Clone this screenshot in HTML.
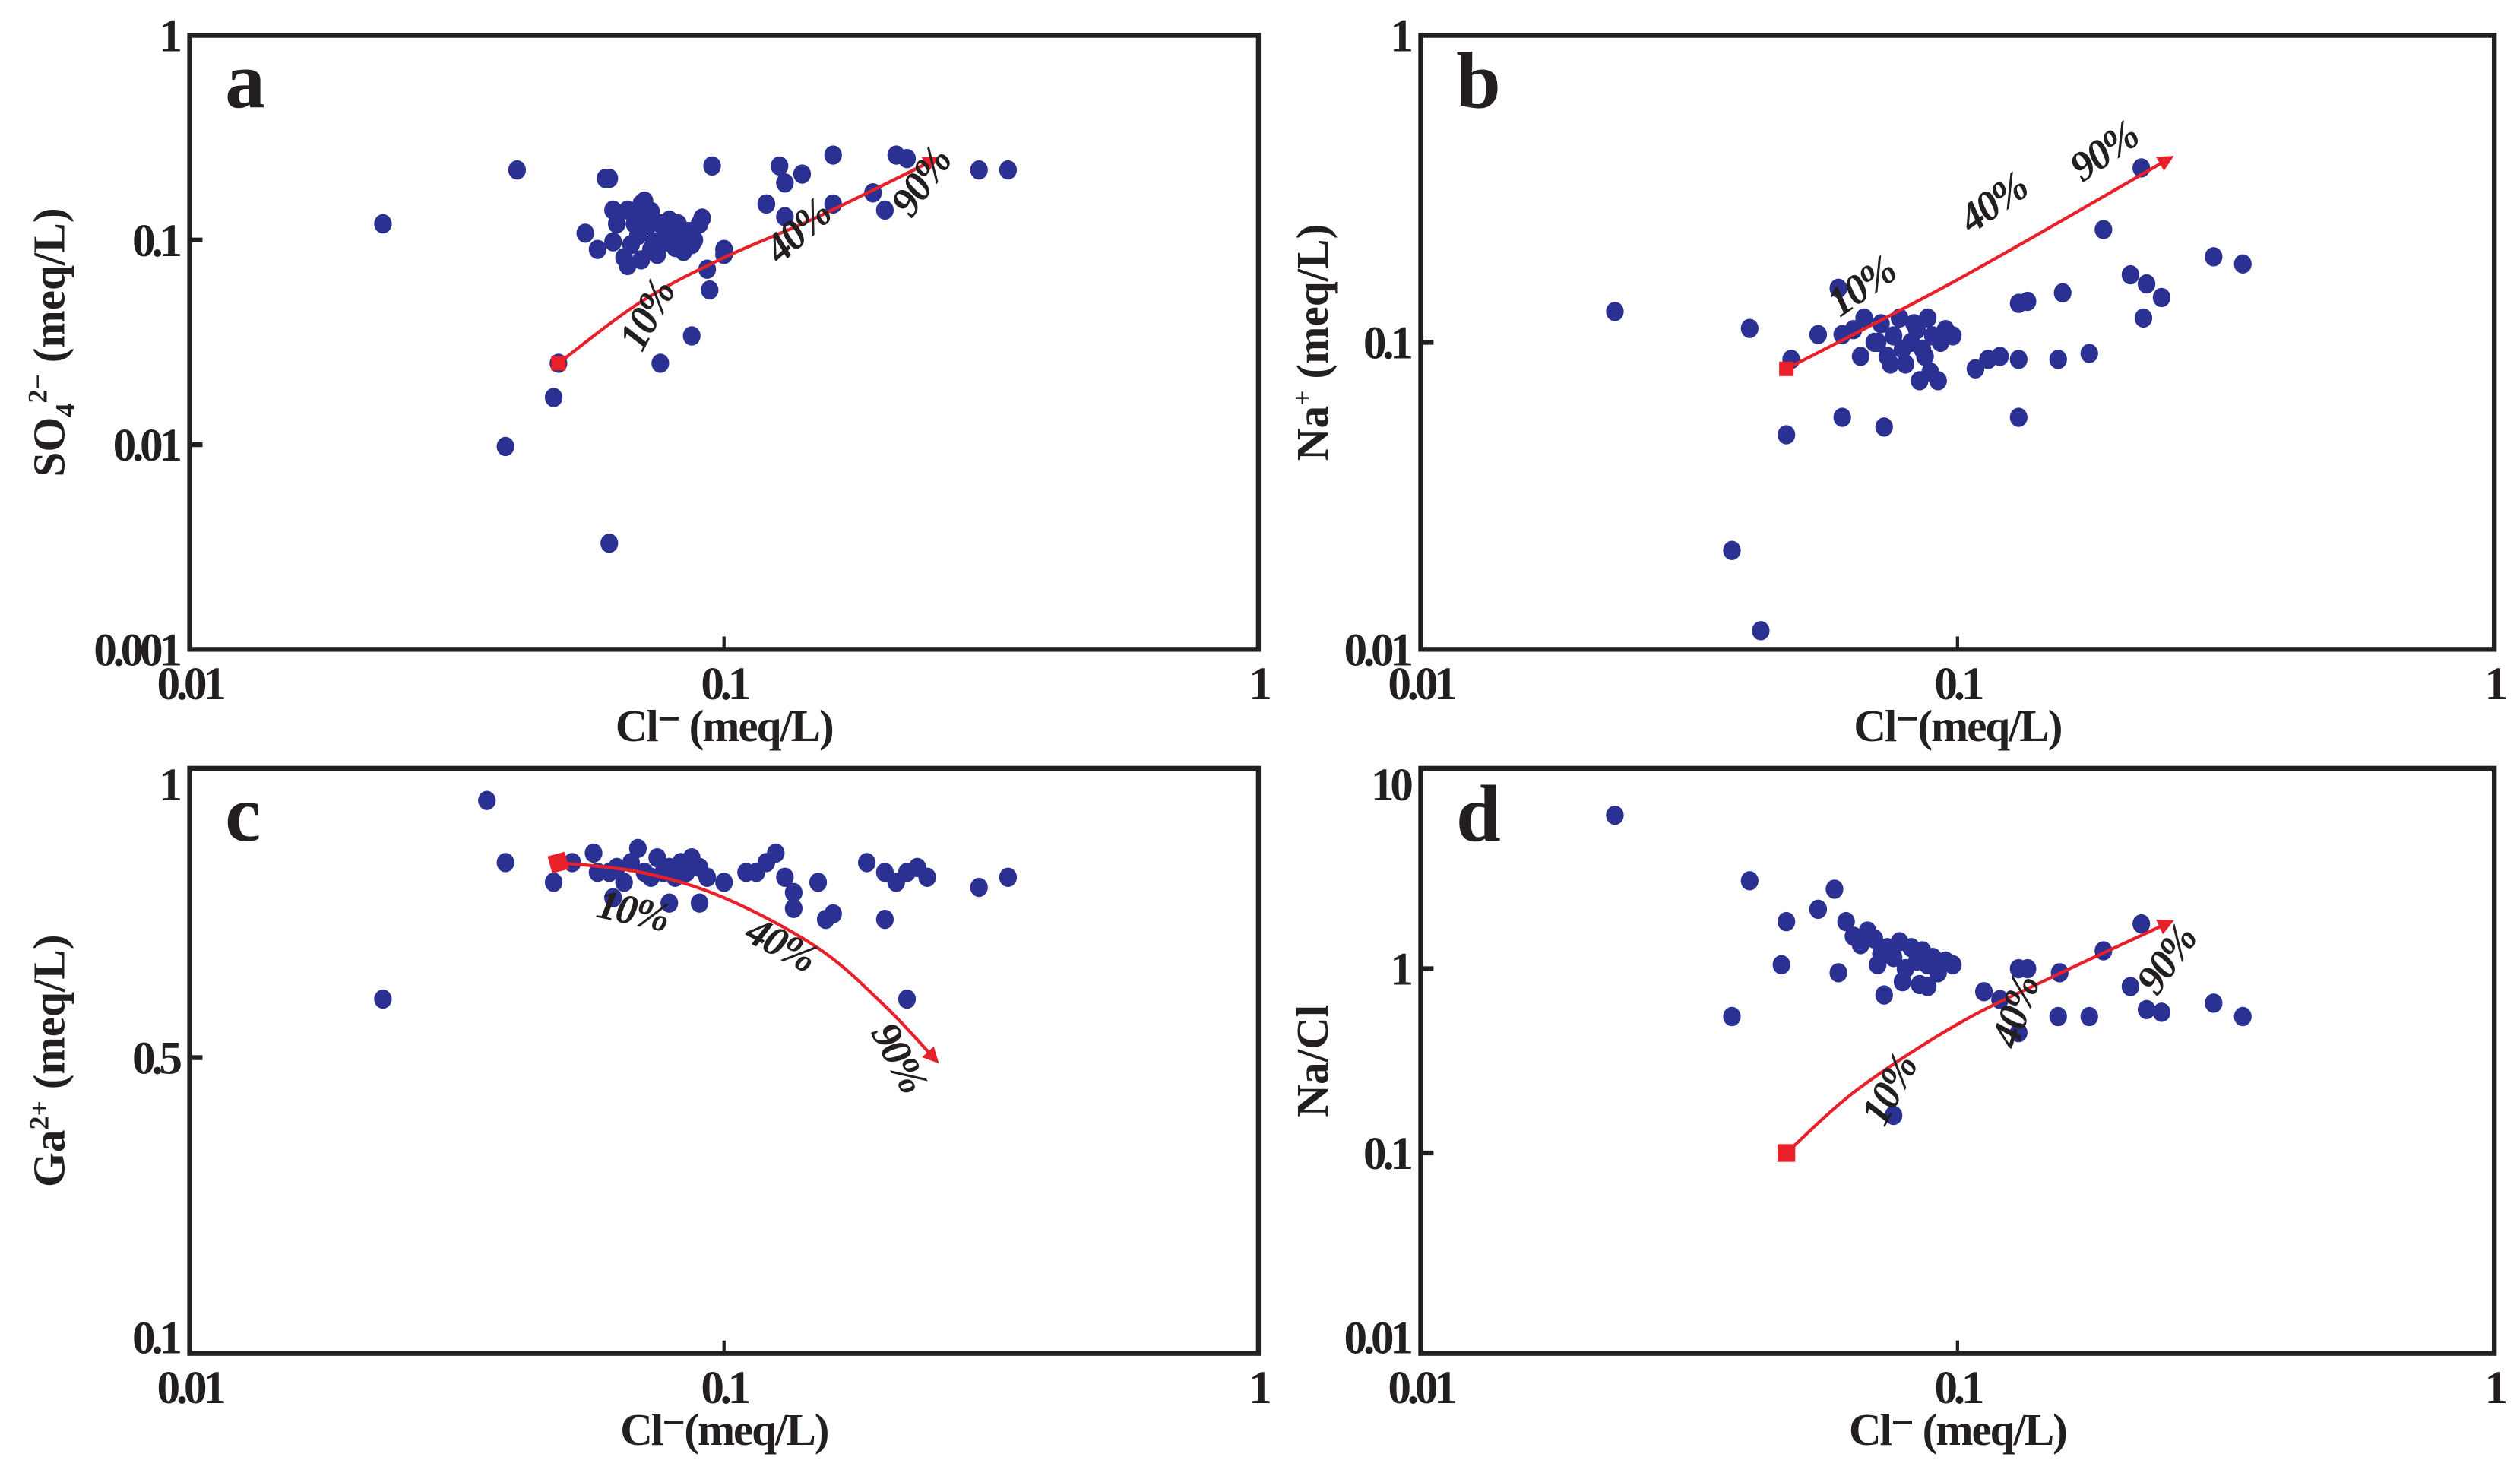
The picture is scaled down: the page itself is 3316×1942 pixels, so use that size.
<!DOCTYPE html>
<html><head><meta charset="utf-8"><style>
html,body{margin:0;padding:0;background:#fff;width:3316px;height:1942px;overflow:hidden}
svg{display:block}
text{font-family:"Liberation Serif",serif;font-weight:bold;fill:#231f20}
</style></head><body>
<svg id="fig" width="3316" height="1942" viewBox="0 0 1568 918.3" preserveAspectRatio="none" xmlns="http://www.w3.org/2000/svg"></svg>
<script>
// ---- data ----
const aX=[0.023,0.041,0.039,0.048,0.049,0.061,0.060,0.061,0.095,0.127,0.16,0.19,0.21,0.22,0.30,0.34,0.20,0.14,0.13,0.12,0.12,0.13,0.16,0.10,0.10,0.094,0.093,0.087,0.076,
0.055,0.062,0.066,0.062,0.065,0.066,0.067,0.070,0.070,0.072,0.073,0.074,0.076,0.078,0.079,0.081,0.082,0.084,0.086,0.088,0.090,0.091,0.075,0.070,0.081,0.071,0.068,0.073,0.084,0.078,0.069,0.085,0.087,0.058,0.063];
const aY=[0.12,0.22,0.0098,0.017,0.025,0.0033,0.20,0.20,0.23,0.23,0.26,0.17,0.26,0.25,0.22,0.22,0.14,0.21,0.19,0.15,0.15,0.13,0.15,0.085,0.09,0.057,0.072,0.034,0.025,
0.108,0.14,0.14,0.098,0.082,0.075,0.095,0.15,0.125,0.118,0.138,0.098,0.12,0.11,0.125,0.10,0.12,0.098,0.11,0.10,0.12,0.128,0.085,0.08,0.092,0.155,0.12,0.09,0.088,0.098,0.105,0.11,0.095,0.09,0.12];
const bX=[0.023,0.041,0.038,0.048,0.049,0.043,0.061,0.073,0.060,0.055,0.061,0.13,0.135,0.157,0.187,0.21,0.225,0.24,0.222,0.30,0.34,0.176,0.154,0.13,0.114,0.12,0.13,0.108,0.22,
0.064,0.067,0.070,0.072,0.074,0.076,0.078,0.080,0.082,0.084,0.086,0.088,0.090,0.092,0.095,0.098,0.075,0.079,0.083,0.087,0.071,0.066,0.085,0.089,0.093];
const bY=[0.126,0.111,0.021,0.05,0.088,0.0115,0.057,0.053,0.15,0.106,0.106,0.134,0.136,0.145,0.233,0.166,0.155,0.14,0.12,0.19,0.18,0.092,0.088,0.057,0.088,0.09,0.088,0.082,0.37,
0.11,0.12,0.1,0.115,0.09,0.105,0.12,0.085,0.1,0.11,0.095,0.12,0.105,0.075,0.11,0.105,0.085,0.095,0.115,0.09,0.1,0.09,0.075,0.08,0.1];
const cX=[0.036,0.039,0.023,0.048,0.052,0.057,0.058,0.061,0.063,0.065,0.067,0.069,0.071,0.073,0.075,0.077,0.079,0.081,0.083,0.085,0.087,0.090,0.093,0.10,0.11,0.115,0.12,0.125,0.13,0.135,0.15,0.16,0.185,0.20,0.21,0.22,0.23,0.24,0.30,0.34,0.09,0.135,0.155,0.20,0.22,0.062,0.079];
const cY=[0.96,0.82,0.58,0.78,0.82,0.84,0.80,0.80,0.81,0.78,0.82,0.85,0.80,0.79,0.83,0.80,0.81,0.79,0.82,0.80,0.83,0.81,0.79,0.78,0.80,0.80,0.82,0.84,0.79,0.76,0.78,0.72,0.82,0.80,0.78,0.80,0.81,0.79,0.77,0.79,0.74,0.73,0.71,0.71,0.58,0.75,0.74];
const dX=[0.023,0.041,0.038,0.048,0.047,0.059,0.055,0.060,0.073,0.076,0.13,0.135,0.155,0.187,0.22,0.21,0.225,0.24,0.30,0.34,0.176,0.154,0.13,0.112,0.12,
0.062,0.064,0.066,0.068,0.070,0.072,0.074,0.076,0.078,0.080,0.082,0.084,0.086,0.088,0.090,0.092,0.095,0.098,0.085,0.079,0.071,0.088];
const dY=[6.8,3.0,0.55,1.8,1.05,2.7,2.1,0.95,0.72,0.16,1.0,1.0,0.95,1.25,1.75,0.8,0.6,0.58,0.65,0.55,0.55,0.55,0.45,0.75,0.68,
1.8,1.5,1.35,1.6,1.45,1.2,1.3,1.15,1.4,1.0,1.3,1.1,1.25,1.05,1.15,0.95,1.1,1.05,0.82,0.85,1.05,0.8];
// mixing curves
const aCurveX=[0.049,0.07,0.1,0.15,0.25], aCurveY=[0.025,0.05,0.082,0.13,0.25];
const bCurveX=[0.048,0.1,0.25], bCurveY=[0.082,0.16,0.4];
const cCurveX=[0.049,0.07,0.1,0.15,0.2,0.25], cCurveY=[0.82,0.80,0.75,0.66,0.57,0.49];
const dCurveX=[0.048,0.065,0.1,0.15,0.25], dCurveY=[0.1,0.22,0.5,0.9,1.8];
const xTicks=[0.01,0.1,1], xTickLabels=["0.01","0.1","1"];
const aYTicks=[1,0.1,0.01,0.001], aYLabels=["1","0.1","0.01","0.001"];
const bYTicks=[1,0.1,0.01], bYLabels=["1","0.1","0.01"];
const cYTicks=[1,0.5,0.1], cYLabels=["1","0.5","0.1"];
const dYTicks=[10,1,0.1,0.01], dYLabels=["10","1","0.1","0.01"];

const NS="http://www.w3.org/2000/svg", svg=document.getElementById('fig');
function el(tag,attrs,parent){const e=document.createElementNS(NS,tag);for(const k in attrs)e.setAttribute(k,attrs[k]);(parent||svg).appendChild(e);return e;}
function logAxis(v0,v1,p0,p1){return v=>p0+(Math.log10(v)-Math.log10(v0))/(Math.log10(v1)-Math.log10(v0))*(p1-p0);}
function pieceAxis(vals,pos){return v=>{const l=Math.log10(v);for(let i=0;i<vals.length-1;i++){const a=Math.log10(vals[i]),b=Math.log10(vals[i+1]);if((l<=a&&l>=b)||i==vals.length-2){return pos[i]+(l-a)/(b-a)*(pos[i+1]-pos[i]);}}};}

const panels=[
 {id:'a',L:118,R:783,T:22,B:404,xs:logAxis(0.01,1,118,783),ys:logAxis(1,0.001,22,404),X:aX,Y:aY,cx:aCurveX,cy:aCurveY,yt:aYTicks,yl:aYLabels,xt:"Cl⁻ (meq/L)",ytl:'so4',
  pct:[[410,200,-62,"10%"],[502,150,-42,"40%"],[580,118,-55,"90%"]]},
 {id:'b',L:884,R:1552,T:22,B:404,xs:logAxis(0.01,1,884,1552),ys:logAxis(1,0.01,22,404),X:bX,Y:bY,cx:bCurveX,cy:bCurveY,yt:bYTicks,yl:bYLabels,xt:"Cl⁻(meq/L)",ytl:'na',
  pct:[[1163,185,-35,"10%"],[1245,133,-35,"40%"],[1314,101,-35,"90%"]]},
 {id:'c',L:118,R:783,T:478,B:842,xs:logAxis(0.01,1,118,783),ys:pieceAxis([1,0.5,0.1],[488,658,832]),X:cX,Y:cY,cx:cCurveX,cy:cCurveY,yt:cYTicks,yl:cYLabels,xt:"Cl⁻(meq/L)",ytl:'ga',
  pct:[[392,575,12,"10%"],[482,595,28,"40%"],[552,662,62,"90%"]]},
 {id:'d',L:884,R:1552,T:478,B:842,xs:logAxis(0.01,1,884,1552),ys:logAxis(10,0.01,488,832),X:dX,Y:dY,cx:dCurveX,cy:dCurveY,yt:dYTicks,yl:dYLabels,xt:"Cl⁻ (meq/L)",ytl:'nacl',
  pct:[[1183,682,-62,"10%"],[1262,632,-72,"40%"],[1355,602,-55,"90%"]]}
];

el('defs',{}).innerHTML='<marker id="arr" viewBox="0 0 10 10" refX="8" refY="5" markerWidth="5" markerHeight="5" orient="auto"><path d="M0,0L10,5L0,10z" fill="#e8202a"/></marker>';

panels.forEach(p=>{
  const g=el('g',{});
  
  
  const fr=el('rect',{x:p.L,y:p.T,width:p.R-p.L,height:p.B-p.T,fill:'none',stroke:'#231f20','stroke-width':3},g);
  
  
  xTicks.forEach((t,i)=>{
    const x=p.xs(t);
    if(i==1){el('line',{x1:x,x2:x,y1:p.B,y2:p.B-8,stroke:'#231f20','stroke-width':2},g);}
    const tx=el('text',{x:x,y:p.B+31,'font-size':29,'text-anchor':'middle','letter-spacing':'-2.5'},g);
    tx.textContent=xTickLabels[i];
    
    
  });
  p.yt.forEach((t,i)=>{
    const y=p.ys(t);
    if(i>0&&i<p.yt.length-1){el('line',{x1:p.L,x2:p.L+8,y1:y,y2:y,stroke:'#231f20','stroke-width':3},g);}
    const ty=el('text',{x:p.L-7,y:y+10,'font-size':29,'text-anchor':'end','letter-spacing':'-2.5'},g);
    ty.textContent=p.yl[i];
    
    
  });
  const xt=el('text',{x:(p.L+p.R)/2,y:p.B+57,'font-size':28,'text-anchor':'middle','letter-spacing':'-1'},g);
  xt.textContent=p.xt;
  
  
  const cy=(p.T+p.B)/2, tx=p.id=='a'||p.id=='c'?40:826;
  const yt=el('text',{x:tx,y:cy,'font-size':28,'text-anchor':'middle',transform:`rotate(-90 ${tx} ${cy})`},g);
  if(p.ytl=='so4') yt.innerHTML='SO<tspan font-size="17" dy="6">4</tspan><tspan font-size="17" dy="-17">2−</tspan><tspan dy="11"> (meq/L)</tspan>';
  else if(p.ytl=='na') yt.innerHTML='Na<tspan font-size="17" dy="-10">+</tspan><tspan dy="10"> (meq/L)</tspan>';
  else if(p.ytl=='ga') yt.innerHTML='Ga<tspan font-size="17" dy="-10">2+</tspan><tspan dy="10"> (meq/L)</tspan>';
  else yt.textContent='Na/Cl';
  
  
  const lt=el('text',{x:p.L+22,y:p.T+45,'font-size':50},g);
  lt.textContent=p.id;
  
  
  p.X.forEach((xv,i)=>{
    const c=el('ellipse',{cx:p.xs(xv),cy:p.ys(p.Y[i]),rx:5.5,ry:6,fill:'#2a3192'},g);
    
    
  });
  const pts=p.cx.map((v,i)=>[p.xs(v),p.ys(p.cy[i])]);
  let d='M'+pts[0][0]+','+pts[0][1];
  for(let i=0;i<pts.length-1;i++){
    const p0=pts[Math.max(0,i-1)],p1=pts[i],p2=pts[i+1],p3=pts[Math.min(pts.length-1,i+2)];
    d+=`C${p1[0]+(p2[0]-p0[0])/6},${p1[1]+(p2[1]-p0[1])/6} ${p2[0]-(p3[0]-p1[0])/6},${p2[1]-(p3[1]-p1[1])/6} ${p2[0]},${p2[1]}`;
  }
  const cv=el('path',{d:d,fill:'none',stroke:'#e8202a','stroke-width':2,'marker-end':'url(#arr)'},g);
  
  
  const sq=p.id=='c'||p.id=='d'?11:9;
  const s=el('rect',{x:pts[0][0]-sq/2,y:pts[0][1]-sq/2,width:sq,height:sq,fill:'#e8202a',transform:p.id=='c'?`rotate(-15 ${pts[0][0]} ${pts[0][1]})`:''},g);
  
  
  p.pct.forEach(q=>{
    const t=el('text',{x:q[0],y:q[1],'font-size':26,'font-style':'italic','text-anchor':'middle','letter-spacing':'-1',transform:`rotate(${q[2]} ${q[0]} ${q[1]})`},g);
    t.textContent=q[3];
    
    
  });
});
</script>
</body></html>
